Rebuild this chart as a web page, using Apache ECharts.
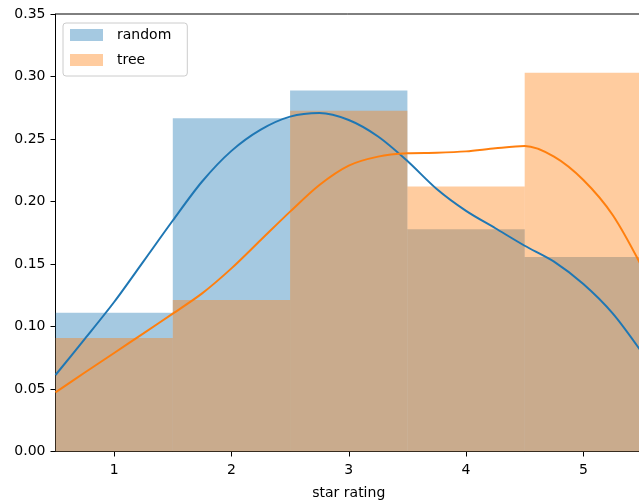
<!DOCTYPE html>
<html><head><meta charset="utf-8">
<script src="https://cdn.jsdelivr.net/npm/echarts@6/dist/echarts.min.js"></script>
<style>html,body{margin:0;padding:0;background:#fff}#c{width:639px;height:504px}</style>
</head><body><div id="c"></div>
<script>
const categories = ['1','2','3','4','5'];
const randomHist = [0.1111, 0.2667, 0.2889, 0.1778, 0.1556];
const treeHist = [0.0909, 0.1212, 0.2727, 0.2121, 0.3030];
const kdeX = [0.5, 0.75, 1, 1.25, 1.5, 1.75, 2, 2.25, 2.5, 2.75, 3, 3.25, 3.5, 3.75, 4, 4.25, 4.5, 4.75, 5, 5.25, 5.5];
const randomKde = [0.0612, 0.0901, 0.1196, 0.1521, 0.1848, 0.2160, 0.2405, 0.2575, 0.2679, 0.2708, 0.2652, 0.2520, 0.2324, 0.2100, 0.1925, 0.1786, 0.1646, 0.1519, 0.1340, 0.1105, 0.0791];
const treeKde = [0.0473, 0.0632, 0.0788, 0.0945, 0.1103, 0.1265, 0.1465, 0.1692, 0.1919, 0.2132, 0.2287, 0.2359, 0.2386, 0.2390, 0.2401, 0.2426, 0.2444, 0.2359, 0.2172, 0.1892, 0.1476];

const font = 'DejaVu Sans';
const chart = echarts.init(document.getElementById('c'), null, {renderer: 'canvas'});
const zip = (xs, ys) => xs.map((x, i) => [x, ys[i]]);
chart.setOption({
  animation: false,
  backgroundColor: '#fff',
  textStyle: {fontFamily: font},
  grid: {left: 55.5, top: 14, width: 586.5, bottom: 52.5, outerBoundsMode: 'none', containLabel: false,
    show: true, borderColor: '#000', borderWidth: 1, backgroundColor: 'transparent'},
  legend: {
    left: 63, top: 23, orient: 'vertical',
    data: ['random', 'tree'],
    icon: 'rect', itemWidth: 33, itemHeight: 12, itemGap: 11,
    padding: [5, 16, 9, 7],
    borderColor: '#cccccc', borderWidth: 1, borderRadius: 3,
    backgroundColor: 'rgba(255,255,255,0.8)',
    textStyle: {fontFamily: font, fontSize: 14, color: '#000', lineHeight: 14, padding: [0, 0, 0, 9]}
  },
  xAxis: [
    {
      type: 'category', data: categories, boundaryGap: true,
      name: 'star rating', nameLocation: 'middle', nameGap: 35,
      nameTextStyle: {fontFamily: font, fontSize: 14, color: '#000'},
      axisLine: {show: true, lineStyle: {color: '#000', width: 1}},
      axisTick: {show: true, alignWithLabel: true, length: 5, lineStyle: {color: '#000'}},
      axisLabel: {fontFamily: font, fontSize: 14, color: '#000', margin: 12},
      splitLine: {show: false}
    },
    {
      type: 'value', min: 0.5, max: 5.5, show: false, position: 'bottom',
      splitLine: {show: false}
    }
  ],
  yAxis: {
    type: 'value', min: 0, max: 0.35, interval: 0.05,
    axisLine: {show: true, lineStyle: {color: '#000', width: 1}},
    axisTick: {show: true, length: 5, lineStyle: {color: '#000'}},
    axisLabel: {fontFamily: font, fontSize: 14, color: '#000', margin: 10,
      formatter: v => v.toFixed(2)},
    splitLine: {show: false}
  },
  series: [
    {name: 'random', type: 'bar', xAxisIndex: 0, data: randomHist, barWidth: '100%', barGap: '-100%',
      itemStyle: {color: 'rgba(31,119,180,0.4)'}, z: 1},
    {name: 'tree', type: 'bar', xAxisIndex: 0, data: treeHist, barWidth: '100%', barGap: '-100%',
      itemStyle: {color: 'rgba(255,127,14,0.4)'}, z: 1},
    {name: 'random kde', type: 'line', xAxisIndex: 1, data: zip(kdeX, randomKde), smooth: 0.3,
      showSymbol: false, lineStyle: {color: '#1f77b4', width: 2}, itemStyle: {color: '#1f77b4'}, z: 3},
    {name: 'tree kde', type: 'line', xAxisIndex: 1, data: zip(kdeX, treeKde), smooth: 0.3,
      showSymbol: false, lineStyle: {color: '#ff7f0e', width: 2}, itemStyle: {color: '#ff7f0e'}, z: 3}
  ]
});
</script></body></html>
